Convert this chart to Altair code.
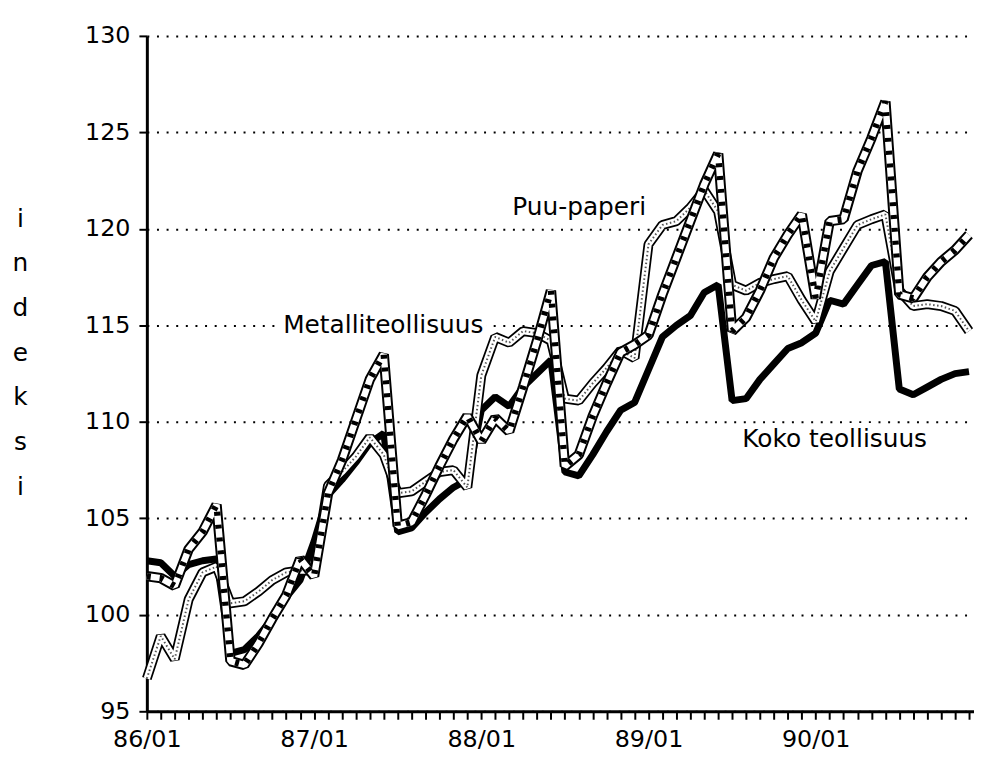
import altair as alt
import pandas as pd

# month index 0 = 86/01 ... 59 = 90/12
months = list(range(60))
year_labels = ["86/01", "87/01", "88/01", "89/01", "90/01"]
y_ticks = [95, 100, 105, 110, 115, 120, 125, 130]

koko = [102.8, 102.7, 102.0, 102.6, 102.8, 102.9, 98.0, 98.2, 98.9, 99.8, 100.9, 101.8,
        103.8, 106.2, 107.0, 107.9, 108.9, 109.4, 104.3, 104.5, 105.3, 106.0, 106.6, 107.0,
        110.6, 111.3, 110.8, 111.8, 112.5, 113.2, 107.4, 107.2, 108.3, 109.5, 110.6, 111.0,
        112.7, 114.4, 115.0, 115.5, 116.7, 117.1, 111.1, 111.2, 112.2, 113.0, 113.8, 114.1,
        114.6, 116.3, 116.1, 117.1, 118.1, 118.3, 111.7, 111.4, 111.8, 112.2, 112.5, 112.6]

metalli = [102.0, 101.9, 101.5, 103.4, 104.3, 105.7, 97.6, 97.4, 98.5, 99.8, 101.0, 102.9,
           102.0, 106.3, 108.0, 110.1, 112.2, 113.5, 104.6, 104.8, 106.2, 107.7, 109.1, 110.3,
           109.0, 110.2, 109.5, 111.8, 114.2, 116.8, 107.7, 108.3, 110.3, 112.0, 113.6, 114.0,
           114.5, 116.6, 118.5, 120.4, 122.3, 123.9, 114.7, 115.4, 116.8, 118.5, 119.7, 120.75,
           116.4, 120.4, 120.5, 123.0, 124.7, 126.6, 116.6, 116.4, 117.5, 118.3, 118.9, 119.7]

puu = [96.7, 98.9, 97.7, 100.8, 102.2, 102.5, 100.6, 100.7, 101.2, 101.8, 102.2, 102.3,
       102.3, 106.7, 107.4, 108.2, 109.2, 108.3, 106.3, 106.4, 106.9, 107.4, 107.5, 106.6,
       112.4, 114.4, 114.1, 114.7, 114.6, 114.2, 111.2, 111.1, 112.0, 112.8, 113.7, 113.3,
       119.2, 120.2, 120.4, 121.1, 122.0, 120.9, 117.1, 116.8, 117.2, 117.4, 117.55, 116.3,
       115.2, 117.8, 119.0, 120.2, 120.5, 120.75, 116.8, 116.0, 116.1, 116.0, 115.75, 114.7]

label_texts = ["Metalliteollisuus", "Puu-paperi", "Koko teollisuus"]
label_x = [16.97, 31.03, 49.36]
label_y = [114.58, 120.70, 108.72]

series = {"koko": koko, "metalli": metalli, "puu": puu}
df = pd.DataFrame(
    [{"kk": m, "v": vals[m], "s": name} for name, vals in series.items() for m in months]
)
lab_df = pd.DataFrame({"text": label_texts, "kk": label_x, "v": label_y})

FONT = "DejaVu Sans"
xscale = alt.Scale(domain=[0, 59.36], nice=False, zero=False)
yscale = alt.Scale(domain=[95, 130], nice=False, zero=False)

label_expr = " : ".join(
    f"datum.value == {12 * i} ? '{lab}'" for i, lab in enumerate(year_labels)
) + " : ''"

x_axis = alt.Axis(
    values=months, labelExpr=label_expr, tickSize=8, tickWidth=2, tickColor="black",
    domainColor="black", domainWidth=3, labelFont=FONT, labelFontSize=24,
    labelColor="black", labelPadding=9, grid=False, title=None,
    labelFlush=False, labelOverlap=False,
)
y_axis = alt.Axis(
    values=y_ticks, tickSize=8, tickWidth=2, tickColor="black",
    domainColor="black", domainWidth=3, labelFont=FONT, labelFontSize=24,
    labelColor="black", labelPadding=9, grid=True, gridColor="black",
    gridDash=[2, 7.7], gridWidth=2, gridOpacity=1,
    title=["i", "n", "d", "e", "k", "s", "i"], titleAngle=0, titleFont=FONT,
    titleFontSize=25, titleFontWeight="normal", titleColor="black",
    titleLineHeight=45, titleX=-128, titleY=192, titleAlign="center",
    titleBaseline="alphabetic",
)

X = alt.X("kk:Q", scale=xscale, axis=x_axis)
Y = alt.Y("v:Q", scale=yscale, axis=y_axis)


def line(name, color, width, dash=None):
    kw = dict(color=color, strokeWidth=width, strokeJoin="bevel", strokeCap="butt")
    if dash:
        kw["strokeDash"] = dash
    return (
        alt.Chart(df)
        .transform_filter(alt.datum.s == name)
        .mark_line(**kw)
        .encode(x=X, y=Y, order="kk:Q")
    )


layers = [
    line("koko", "black", 7),
    line("puu", "black", 10),
    line("puu", "white", 6.5),
    line("puu", "#555555", 2, dash=[1.5, 2.5]),
    line("metalli", "black", 10.5),
    line("metalli", "white", 6.5),
    line("metalli", "black", 6.5, dash=[4, 9]),
]

halo = alt.Chart(lab_df).mark_text(
    font=FONT, fontSize=25, align="center", baseline="alphabetic",
    color="white", stroke="white", strokeWidth=10,
).encode(x=X, y=Y, text="text:N")
txt = alt.Chart(lab_df).mark_text(
    font=FONT, fontSize=25, align="center", baseline="alphabetic", color="black",
).encode(x=X, y=Y, text="text:N")

chart = alt.layer(*layers, halo, txt).properties(
    width=834, height=681,
    background="white",
    autosize=alt.AutoSizeParams(type="none"),
    padding={"left": 140, "top": 25, "right": 0, "bottom": 48},
).configure_view(stroke=None)

chart.save("out.html", embed_options={"renderer": "svg", "actions": False})
